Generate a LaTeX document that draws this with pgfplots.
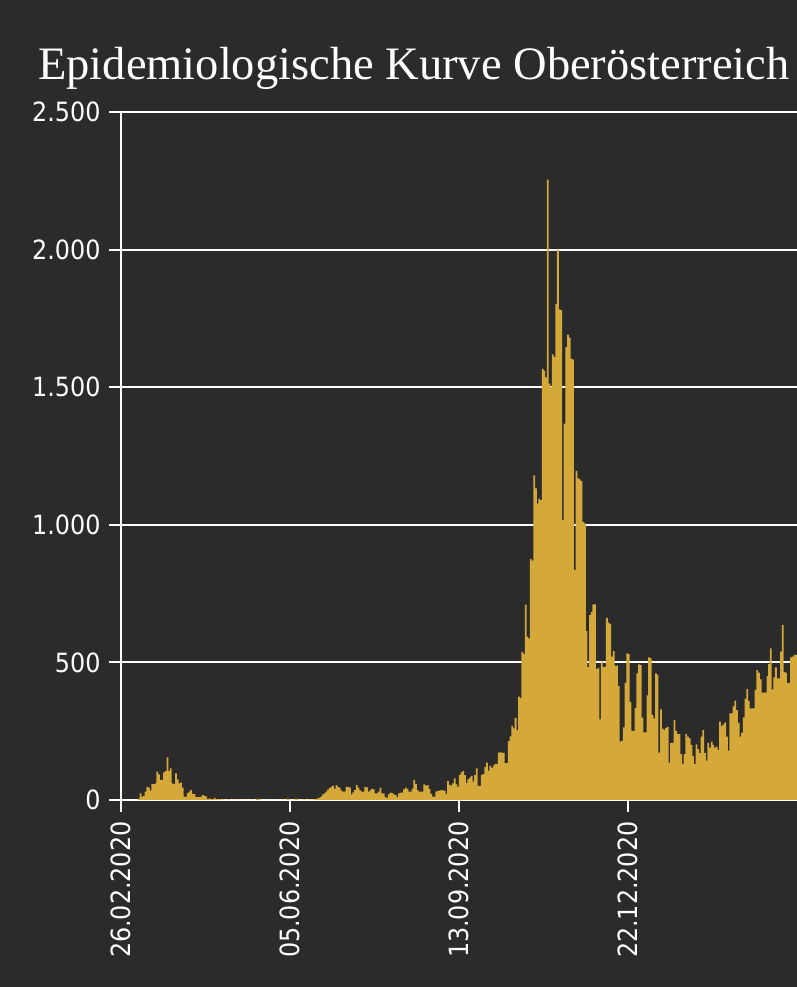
\documentclass[border=0pt]{standalone}
\usepackage{pgfplots}
\pgfplotsset{compat=1.18}
\usepackage{pgfplotstable}
\usepackage{fontspec}
\setmainfont{Liberation Serif}
\newfontfamily\tickfont{DejaVu Sans Condensed}
\definecolor{bg}{RGB}{43,43,43}
\definecolor{gold}{RGB}{212,169,58}

% daily cases, d = days after 26.02.2020
\pgfplotstableread[row sep=\\]{
d v\\
10 5\\ 11 24\\ 12 12\\ 13 15\\ 14 30\\ 15 48\\ 16 45\\ 17 34\\ 18 58\\ 19 58\\
20 60\\ 21 103\\ 22 93\\ 23 73\\ 24 73\\ 25 100\\ 26 105\\ 27 155\\ 28 105\\ 29 115\\
30 60\\ 31 58\\ 32 97\\ 33 75\\ 34 60\\ 35 63\\ 36 45\\ 37 12\\ 38 12\\ 39 25\\
40 30\\ 41 36\\ 42 21\\ 43 21\\ 44 10\\ 45 10\\ 46 10\\ 47 12\\ 48 18\\ 49 15\\
50 12\\ 51 3\\ 52 6\\ 53 3\\ 54 3\\ 55 8\\ 56 3\\ 57 2\\ 58 3\\ 59 1\\
60 2\\ 61 1\\ 62 0\\ 63 2\\ 64 1\\ 65 0\\ 66 1\\ 67 0\\ 68 1\\ 69 0\\
70 1\\ 71 0\\ 72 0\\ 73 1\\ 74 0\\ 75 0\\ 76 0\\ 77 1\\ 78 0\\ 79 0\\
80 3\\ 81 5\\ 82 1\\ 83 0\\ 84 0\\ 85 0\\ 86 0\\ 87 1\\ 88 0\\ 89 0\\
90 0\\ 91 0\\ 92 1\\ 93 0\\ 94 0\\ 95 1\\ 96 0\\ 97 0\\ 98 5\\ 99 2\\
100 0\\ 101 0\\ 102 1\\ 103 5\\ 104 2\\ 105 1\\ 106 0\\ 107 1\\ 108 2\\ 109 1\\
110 0\\ 111 2\\ 112 1\\ 113 2\\ 114 2\\ 115 3\\ 116 6\\ 117 9\\ 118 12\\ 119 20\\
120 24\\ 121 30\\ 122 38\\ 123 44\\ 124 48\\ 125 52\\ 126 41\\ 127 54\\ 128 48\\ 129 45\\
130 35\\ 131 30\\ 132 30\\ 133 48\\ 134 48\\ 135 45\\ 136 20\\ 137 28\\ 138 36\\ 139 54\\
140 45\\ 141 35\\ 142 30\\ 143 30\\ 144 48\\ 145 46\\ 146 30\\ 147 35\\ 148 40\\ 149 39\\
150 24\\ 151 24\\ 152 30\\ 153 45\\ 154 24\\ 155 24\\ 156 10\\ 157 8\\ 158 20\\ 159 27\\
160 25\\ 161 20\\ 162 18\\ 163 10\\ 164 24\\ 165 27\\ 166 27\\ 167 39\\ 168 45\\ 169 40\\
170 30\\ 171 30\\ 172 40\\ 173 73\\ 174 58\\ 175 36\\ 176 30\\ 177 30\\ 178 30\\ 179 57\\
180 52\\ 181 54\\ 182 40\\ 183 22\\ 184 12\\ 185 12\\ 186 30\\ 187 33\\ 188 34\\ 189 36\\
190 35\\ 191 34\\ 192 22\\ 193 69\\ 194 55\\ 195 52\\ 196 60\\ 197 79\\ 198 57\\ 199 48\\
200 91\\ 201 100\\ 202 105\\ 203 90\\ 204 61\\ 205 75\\ 206 81\\ 207 88\\ 208 67\\ 209 90\\
210 115\\ 211 51\\ 212 51\\ 213 91\\ 214 94\\ 215 120\\ 216 136\\ 217 107\\ 218 124\\ 219 117\\
220 125\\ 221 130\\ 222 131\\ 223 172\\ 224 173\\ 225 172\\ 226 171\\ 227 134\\ 228 134\\ 229 214\\
230 231\\ 231 269\\ 232 260\\ 233 298\\ 234 254\\ 235 376\\ 236 370\\ 237 538\\ 238 530\\ 239 710\\
240 594\\ 241 586\\ 242 876\\ 243 870\\ 244 1180\\ 245 1132\\ 246 1077\\ 247 1095\\ 248 1090\\ 249 1567\\
250 1560\\ 251 1536\\ 252 2254\\ 253 1513\\ 254 1500\\ 255 1619\\ 256 1610\\ 257 1803\\ 258 2000\\ 259 1783\\
260 1780\\ 261 1018\\ 262 1368\\ 263 1646\\ 264 1691\\ 265 1680\\ 266 1604\\ 267 1600\\ 268 836\\ 269 1196\\
270 1169\\ 271 1165\\ 272 1159\\ 273 1011\\ 274 1005\\ 275 614\\ 276 483\\ 277 672\\ 278 684\\ 279 711\\
280 711\\ 281 476\\ 282 480\\ 283 293\\ 284 503\\ 285 484\\ 286 484\\ 287 662\\ 288 645\\ 289 640\\
290 521\\ 291 541\\ 292 488\\ 293 488\\ 294 414\\ 295 212\\ 296 215\\ 297 264\\ 298 426\\ 299 533\\
300 530\\ 301 357\\ 302 251\\ 303 251\\ 304 335\\ 305 460\\ 306 493\\ 307 490\\ 308 299\\ 309 246\\
310 246\\ 311 380\\ 312 518\\ 313 515\\ 314 309\\ 315 297\\ 316 460\\ 317 455\\ 318 172\\ 319 329\\
320 259\\ 321 254\\ 322 262\\ 323 266\\ 324 136\\ 325 208\\ 326 208\\ 327 291\\ 328 251\\ 329 239\\
330 239\\ 331 167\\ 332 131\\ 333 167\\ 334 239\\ 335 230\\ 336 224\\ 337 200\\ 338 160\\ 339 131\\
340 202\\ 341 185\\ 342 170\\ 343 230\\ 344 254\\ 345 170\\ 346 143\\ 347 208\\ 348 190\\ 349 212\\
350 200\\ 351 190\\ 352 194\\ 353 182\\ 354 285\\ 355 269\\ 356 275\\ 357 282\\ 358 230\\ 359 179\\
360 315\\ 361 315\\ 362 340\\ 363 361\\ 364 327\\ 365 280\\ 366 230\\ 367 245\\ 368 300\\ 369 368\\
370 403\\ 371 360\\ 372 333\\ 373 333\\ 374 333\\ 375 400\\ 376 472\\ 377 463\\ 378 438\\ 379 390\\
380 390\\ 381 391\\ 382 450\\ 383 494\\ 384 551\\ 385 402\\ 386 446\\ 387 482\\ 388 442\\ 389 442\\
390 539\\ 391 636\\ 392 466\\ 393 463\\ 394 426\\ 395 426\\ 396 518\\ 397 521\\ 398 527\\ 399 527\\
400 527\\ 401 530\\ 402 520\\
}\epidata

\begin{document}
\begin{tikzpicture}
\path[use as bounding box] (0,0) rectangle (797pt,987pt);
\clip (0,0) rectangle (797pt,987pt);
\fill[bg] (0,0) rectangle (797pt,987pt);
\begin{axis}[
  at={(121pt,187pt)}, anchor=south west,
  scale only axis, width=709.8pt, height=688pt,
  xmin=0, xmax=420, ymin=0, ymax=2500,
  axis x line=bottom, axis y line=left,
  axis line style={white, line width=2pt, -},
  ytick={0,500,...,2500},
  yticklabels={0,500,1.000,1.500,2.000,2.500},
  xtick={0,100,200,300},
  xticklabels={26.02.2020,05.06.2020,13.09.2020,22.12.2020},
  tick align=outside, major tick length=12pt,
  tick style={white, line width=2pt},
  ymajorgrids, major grid style={white, line width=2pt},
  tick label style={white, font=\tickfont\fontsize{26.5}{30}\selectfont},
  yticklabel shift=5pt,
  xticklabel shift=6pt,
  xticklabel style={rotate=90, anchor=east},
  title={Epidemiologische Kurve Oberösterreich},
  title style={white, font=\fontsize{46.5}{52}\selectfont, anchor=base west,
    at={(-0.1169,1.0378)}, inner sep=0pt},
]
\addplot[ybar, bar width=1.05, fill=gold, draw=none]
  table[x expr=\thisrow{d}+0.5, y=v]{\epidata};
\end{axis}
\end{tikzpicture}
\end{document}
